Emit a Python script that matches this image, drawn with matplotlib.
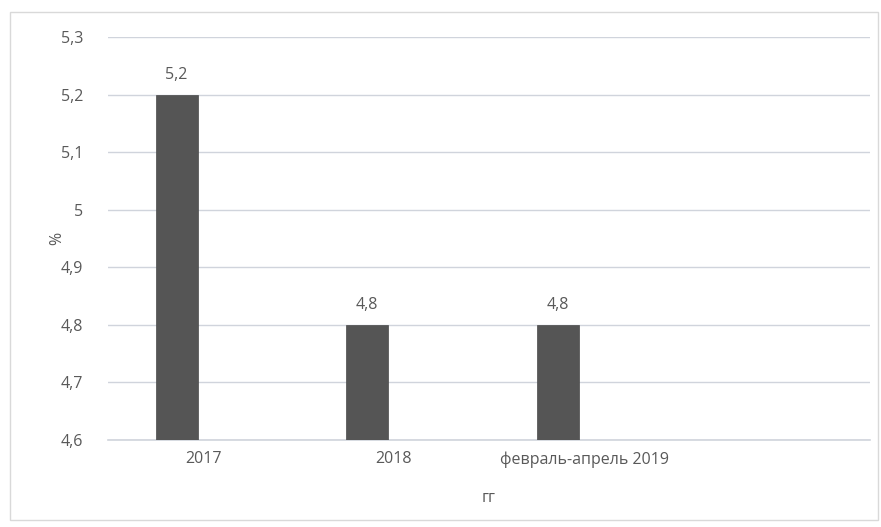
import matplotlib.pyplot as plt
from matplotlib.patches import Rectangle
from matplotlib.ticker import FuncFormatter

# данные
categories = ['2017', '2018', 'февраль-апрель 2019', '']
values = [5.2, 4.8, 4.8, None]
y_ticks = [4.6, 4.7, 4.8, 4.9, 5.0, 5.1, 5.2, 5.3]

plt.rcParams['font.family'] = ['Open Sans', 'DejaVu Sans']
text_color = '#595959'
fs = 11.5

fig = plt.figure(figsize=(8.81, 5.27), dpi=100)
ax = fig.add_axes([108 / 881, 1 - 440 / 527, 762 / 881, 403 / 527])

# рамка диаграммы
fig.patches.append(Rectangle((10 / 881, 7 / 527), 868 / 881, 508 / 527,
                             transform=fig.transFigure, fill=False,
                             edgecolor='#d9d9d9', linewidth=1.0))

x = list(range(len(categories)))
for i, v in enumerate(values):
    if v is None:
        continue
    ax.bar(i - 0.14, v - 4.6, bottom=4.6, width=0.22,
           color='#555555', edgecolor='#4a4a4a', linewidth=0.5, zorder=3)
    ax.text(i - 0.14, v + 0.02, f'{v:.1f}'.replace('.', ','),
            ha='center', va='bottom', fontsize=fs, color=text_color)

ax.set_xlim(-0.5, len(categories) - 0.5)
ax.set_ylim(4.6, 5.3)
ax.set_yticks(y_ticks)
ax.yaxis.set_major_formatter(FuncFormatter(
    lambda v, p: ('%g' % round(v, 1)).replace('.', ',')))
ax.set_xticks(x)
ax.set_xticklabels(categories)

ax.grid(axis='y', color='#d0d4dc', linewidth=1.0, zorder=0)
ax.axhline(4.6, color='#d0d4dc', linewidth=1.2, zorder=2, clip_on=False)
for s in ax.spines.values():
    s.set_visible(False)
ax.tick_params(axis='both', length=0, labelsize=fs, labelcolor=text_color)
ax.tick_params(axis='y', pad=18)
ax.tick_params(axis='x', pad=8)

ax.set_xlabel('гг', fontsize=fs, color=text_color, labelpad=16)
ax.set_ylabel('%', fontsize=fs, color=text_color, labelpad=-3)

fig.savefig('out.png', dpi=100, facecolor='white')
